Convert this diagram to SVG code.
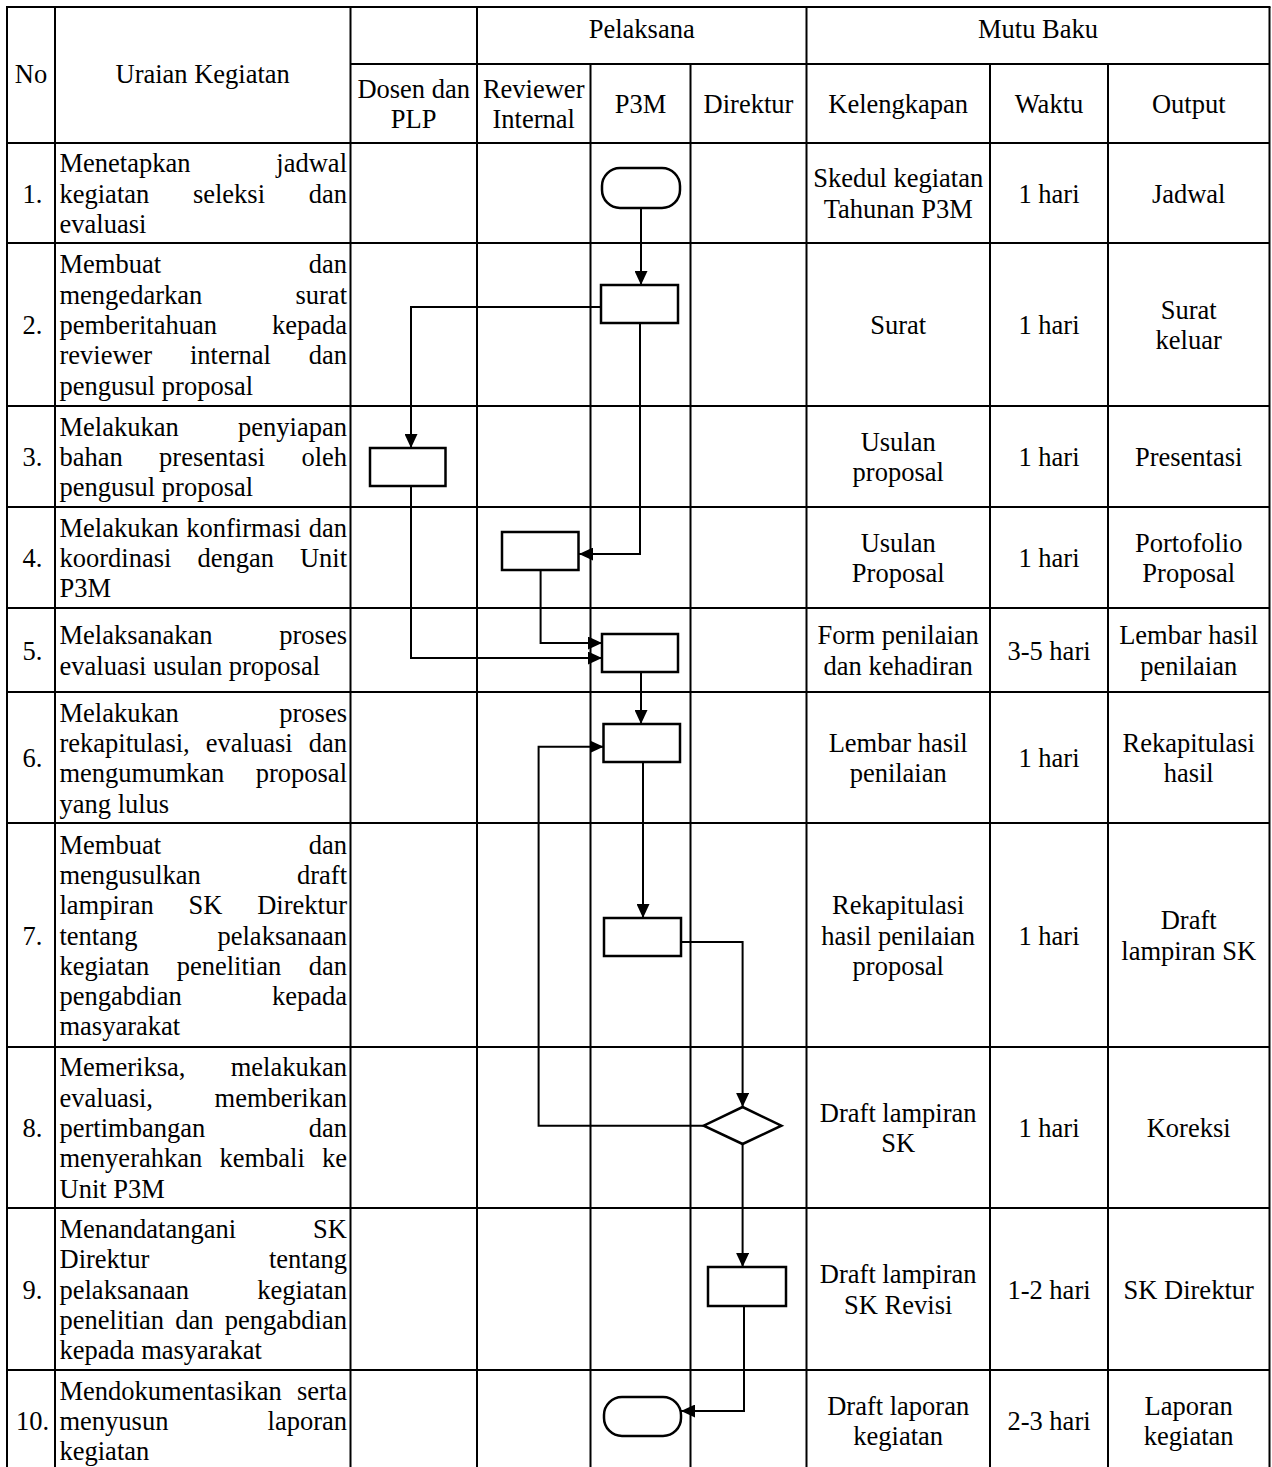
<svg xmlns="http://www.w3.org/2000/svg" width="1272" height="1467" viewBox="0 0 1272 1467">
<style>
.t{font-family:"Liberation Serif","Times New Roman",serif;font-size:26.5px;fill:#000}
.c{text-anchor:middle}
.e{text-anchor:end}
.grid line{stroke:#000;stroke-width:2}
.shape{fill:#fff;stroke:#000;stroke-width:2.5}
.conn{fill:none;stroke:#000;stroke-width:2}
</style>
<defs>
<marker id="arr" markerWidth="15" markerHeight="13" refX="14" refY="6.5" orient="auto" markerUnits="userSpaceOnUse"><path d="M0,0 L14,6.5 L0,13 z" fill="#000"/></marker>
</defs>
<rect width="1272" height="1467" fill="#fff"/>
<g id="table" class="grid">
<line x1="7" y1="7" x2="7" y2="1467"/>
<line x1="55" y1="7" x2="55" y2="1467"/>
<line x1="350.5" y1="7" x2="350.5" y2="1467"/>
<line x1="477" y1="7" x2="477" y2="1467"/>
<line x1="590.5" y1="64" x2="590.5" y2="1467"/>
<line x1="690.5" y1="64" x2="690.5" y2="1467"/>
<line x1="806.5" y1="7" x2="806.5" y2="1467"/>
<line x1="990" y1="64" x2="990" y2="1467"/>
<line x1="1108" y1="64" x2="1108" y2="1467"/>
<line x1="1269.5" y1="7" x2="1269.5" y2="1467"/>
<line x1="6" y1="7" x2="1270.5" y2="7"/>
<line x1="350.5" y1="64" x2="1269.5" y2="64"/>
<line x1="7" y1="143" x2="1269.5" y2="143"/>
<line x1="7" y1="243" x2="1269.5" y2="243"/>
<line x1="7" y1="406" x2="1269.5" y2="406"/>
<line x1="7" y1="507" x2="1269.5" y2="507"/>
<line x1="7" y1="608" x2="1269.5" y2="608"/>
<line x1="7" y1="692" x2="1269.5" y2="692"/>
<line x1="7" y1="823" x2="1269.5" y2="823"/>
<line x1="7" y1="1047" x2="1269.5" y2="1047"/>
<line x1="7" y1="1208" x2="1269.5" y2="1208"/>
<line x1="7" y1="1370" x2="1269.5" y2="1370"/>
</g>
<g id="header" class="t c">
<text x="641.7" y="38">Pelaksana</text>
<text x="1038" y="38">Mutu Baku</text>
<text x="31" y="83">No</text>
<text x="202.7" y="83">Uraian Kegiatan</text>
<text x="413.7" y="98">Dosen dan</text>
<text x="413.7" y="128.3">PLP</text>
<text x="533.7" y="98">Reviewer</text>
<text x="533.7" y="128.3">Internal</text>
<text x="640.5" y="113">P3M</text>
<text x="748.5" y="113">Direktur</text>
<text x="898.2" y="113">Kelengkapan</text>
<text x="1049" y="113">Waktu</text>
<text x="1188.7" y="113">Output</text>
</g>
<g id="row1" class="t">
<text class="c" x="32.5" y="202.5">1.</text>
<text y="172.2"><tspan x="59.5">Menetapkan</tspan> <tspan x="347" class="e">jadwal</tspan></text>
<text y="202.5"><tspan x="59.5">kegiatan</tspan> <tspan x="192.9">seleksi</tspan> <tspan x="347" class="e">dan</tspan></text>
<text x="59.5" y="232.8">evaluasi</text>
<text class="c" x="898.2" y="187.4">Skedul kegiatan</text>
<text class="c" x="898.2" y="217.7">Tahunan P3M</text>
<text class="c" x="1049" y="202.5">1 hari</text>
<text class="c" x="1188.7" y="202.5">Jadwal</text>
</g>
<g id="row2" class="t">
<text class="c" x="32.5" y="334">2.</text>
<text y="273.4"><tspan x="59.5">Membuat</tspan> <tspan x="347" class="e">dan</tspan></text>
<text y="303.7"><tspan x="59.5">mengedarkan</tspan> <tspan x="347" class="e">surat</tspan></text>
<text y="334"><tspan x="59.5">pemberitahuan</tspan> <tspan x="347" class="e">kepada</tspan></text>
<text y="364.3"><tspan x="59.5">reviewer</tspan> <tspan x="190">internal</tspan> <tspan x="347" class="e">dan</tspan></text>
<text x="59.5" y="394.6">pengusul proposal</text>
<text class="c" x="898.2" y="334">Surat</text>
<text class="c" x="1049" y="334">1 hari</text>
<text class="c" x="1188.7" y="318.9">Surat</text>
<text class="c" x="1188.7" y="349.2">keluar</text>
</g>
<g id="row3" class="t">
<text class="c" x="32.5" y="466">3.</text>
<text y="435.7"><tspan x="59.5">Melakukan</tspan> <tspan x="347" class="e">penyiapan</tspan></text>
<text y="466"><tspan x="59.5">bahan</tspan> <tspan x="159.1">presentasi</tspan> <tspan x="347" class="e">oleh</tspan></text>
<text x="59.5" y="496.3">pengusul proposal</text>
<text class="c" x="898.2" y="450.9">Usulan</text>
<text class="c" x="898.2" y="481.2">proposal</text>
<text class="c" x="1049" y="466">1 hari</text>
<text class="c" x="1188.7" y="466">Presentasi</text>
</g>
<g id="row4" class="t">
<text class="c" x="32.5" y="567">4.</text>
<text y="536.7"><tspan x="59.5">Melakukan</tspan> <tspan x="186.3">konfirmasi</tspan> <tspan x="347" class="e">dan</tspan></text>
<text y="567"><tspan x="59.5">koordinasi</tspan> <tspan x="197.4">dengan</tspan> <tspan x="347" class="e">Unit</tspan></text>
<text x="59.5" y="597.3">P3M</text>
<text class="c" x="898.2" y="551.9">Usulan</text>
<text class="c" x="898.2" y="582.2">Proposal</text>
<text class="c" x="1049" y="567">1 hari</text>
<text class="c" x="1188.7" y="551.9">Portofolio</text>
<text class="c" x="1188.7" y="582.2">Proposal</text>
</g>
<g id="row5" class="t">
<text class="c" x="32.5" y="659.5">5.</text>
<text y="644.4"><tspan x="59.5">Melaksanakan</tspan> <tspan x="347" class="e">proses</tspan></text>
<text x="59.5" y="674.7">evaluasi usulan proposal</text>
<text class="c" x="898.2" y="644.4">Form penilaian</text>
<text class="c" x="898.2" y="674.7">dan kehadiran</text>
<text class="c" x="1049" y="659.5">3-5 hari</text>
<text class="c" x="1188.7" y="644.4">Lembar hasil</text>
<text class="c" x="1188.7" y="674.7">penilaian</text>
</g>
<g id="row6" class="t">
<text class="c" x="32.5" y="767">6.</text>
<text y="721.6"><tspan x="59.5">Melakukan</tspan> <tspan x="347" class="e">proses</tspan></text>
<text y="751.9"><tspan x="59.5">rekapitulasi,</tspan> <tspan x="205.8">evaluasi</tspan> <tspan x="347" class="e">dan</tspan></text>
<text y="782.2"><tspan x="59.5">mengumumkan</tspan> <tspan x="347" class="e">proposal</tspan></text>
<text x="59.5" y="812.5">yang lulus</text>
<text class="c" x="898.2" y="751.9">Lembar hasil</text>
<text class="c" x="898.2" y="782.2">penilaian</text>
<text class="c" x="1049" y="767">1 hari</text>
<text class="c" x="1188.7" y="751.9">Rekapitulasi</text>
<text class="c" x="1188.7" y="782.2">hasil</text>
</g>
<g id="row7" class="t">
<text class="c" x="32.5" y="944.5">7.</text>
<text y="853.6"><tspan x="59.5">Membuat</tspan> <tspan x="347" class="e">dan</tspan></text>
<text y="883.9"><tspan x="59.5">mengusulkan</tspan> <tspan x="347" class="e">draft</tspan></text>
<text y="914.2"><tspan x="59.5">lampiran</tspan> <tspan x="188.5">SK</tspan> <tspan x="347" class="e">Direktur</tspan></text>
<text y="944.5"><tspan x="59.5">tentang</tspan> <tspan x="347" class="e">pelaksanaan</tspan></text>
<text y="974.8"><tspan x="59.5">kegiatan</tspan> <tspan x="176.7">penelitian</tspan> <tspan x="347" class="e">dan</tspan></text>
<text y="1005.1"><tspan x="59.5">pengabdian</tspan> <tspan x="347" class="e">kepada</tspan></text>
<text x="59.5" y="1035.4">masyarakat</text>
<text class="c" x="898.2" y="914.2">Rekapitulasi</text>
<text class="c" x="898.2" y="944.5">hasil penilaian</text>
<text class="c" x="898.2" y="974.8">proposal</text>
<text class="c" x="1049" y="944.5">1 hari</text>
<text class="c" x="1188.7" y="929.4">Draft</text>
<text class="c" x="1188.7" y="959.7">lampiran SK</text>
</g>
<g id="row8" class="t">
<text class="c" x="32.5" y="1137">8.</text>
<text y="1076.4"><tspan x="59.5">Memeriksa,</tspan> <tspan x="347" class="e">melakukan</tspan></text>
<text y="1106.7"><tspan x="59.5">evaluasi,</tspan> <tspan x="347" class="e">memberikan</tspan></text>
<text y="1137"><tspan x="59.5">pertimbangan</tspan> <tspan x="347" class="e">dan</tspan></text>
<text y="1167.3"><tspan x="59.5">menyerahkan</tspan> <tspan x="219.4">kembali</tspan> <tspan x="347" class="e">ke</tspan></text>
<text x="59.5" y="1197.6">Unit P3M</text>
<text class="c" x="898.2" y="1121.9">Draft lampiran</text>
<text class="c" x="898.2" y="1152.2">SK</text>
<text class="c" x="1049" y="1137">1 hari</text>
<text class="c" x="1188.7" y="1137">Koreksi</text>
</g>
<g id="row9" class="t">
<text class="c" x="32.5" y="1298.5">9.</text>
<text y="1237.9"><tspan x="59.5">Menandatangani</tspan> <tspan x="347" class="e">SK</tspan></text>
<text y="1268.2"><tspan x="59.5">Direktur</tspan> <tspan x="347" class="e">tentang</tspan></text>
<text y="1298.5"><tspan x="59.5">pelaksanaan</tspan> <tspan x="347" class="e">kegiatan</tspan></text>
<text y="1328.8"><tspan x="59.5">penelitian</tspan> <tspan x="175.3">dan</tspan> <tspan x="347" class="e">pengabdian</tspan></text>
<text x="59.5" y="1359.1">kepada masyarakat</text>
<text class="c" x="898.2" y="1283.4">Draft lampiran</text>
<text class="c" x="898.2" y="1313.7">SK Revisi</text>
<text class="c" x="1049" y="1298.5">1-2 hari</text>
<text class="c" x="1188.7" y="1298.5">SK Direktur</text>
</g>
<g id="row10" class="t">
<text class="c" x="32.5" y="1430">10.</text>
<text y="1399.7"><tspan x="59.5">Mendokumentasikan</tspan> <tspan x="347" class="e">serta</tspan></text>
<text y="1430"><tspan x="59.5">menyusun</tspan> <tspan x="347" class="e">laporan</tspan></text>
<text x="59.5" y="1460.3">kegiatan</text>
<text class="c" x="898.2" y="1414.9">Draft laporan</text>
<text class="c" x="898.2" y="1445.2">kegiatan</text>
<text class="c" x="1049" y="1430">2-3 hari</text>
<text class="c" x="1188.7" y="1414.9">Laporan</text>
<text class="c" x="1188.7" y="1445.2">kegiatan</text>
</g>
<g id="connectors" class="conn">
<path marker-end="url(#arr)" d="M641,208 V285"/>
<path marker-end="url(#arr)" d="M601,307 H411 V448"/>
<path marker-end="url(#arr)" d="M640,323 V554 H579"/>
<path marker-end="url(#arr)" d="M411,486 V658 H602"/>
<path marker-end="url(#arr)" d="M540.6,570 V643 H602"/>
<path marker-end="url(#arr)" d="M641,672 V724"/>
<path marker-end="url(#arr)" d="M643,762 V918"/>
<path marker-end="url(#arr)" d="M681,942 H742.6 V1107"/>
<path marker-end="url(#arr)" d="M703.7,1125.7 H538.6 V746.7 H603.5"/>
<path marker-end="url(#arr)" d="M742.6,1144 V1267"/>
<path marker-end="url(#arr)" d="M744,1306 V1411 H681"/>
</g>
<g id="start"><rect class="shape" x="602" y="168" width="78" height="40" rx="18"/></g>
<g id="step2"><rect class="shape" x="601" y="285" width="77" height="38"/></g>
<g id="step3"><rect class="shape" x="370" y="448" width="75.5" height="38"/></g>
<g id="step4"><rect class="shape" x="502" y="532" width="76.5" height="38"/></g>
<g id="step5"><rect class="shape" x="602" y="634" width="76" height="38"/></g>
<g id="step6"><rect class="shape" x="603.5" y="724" width="76.5" height="38"/></g>
<g id="step7"><rect class="shape" x="604" y="918" width="77" height="38"/></g>
<g id="decision8"><polygon class="shape" points="742.6,1107 781.4,1125.7 742.6,1144 703.7,1125.7"/></g>
<g id="step9"><rect class="shape" x="708" y="1267" width="78" height="39"/></g>
<g id="end"><rect class="shape" x="604" y="1397" width="77" height="39" rx="18"/></g>
</svg>
